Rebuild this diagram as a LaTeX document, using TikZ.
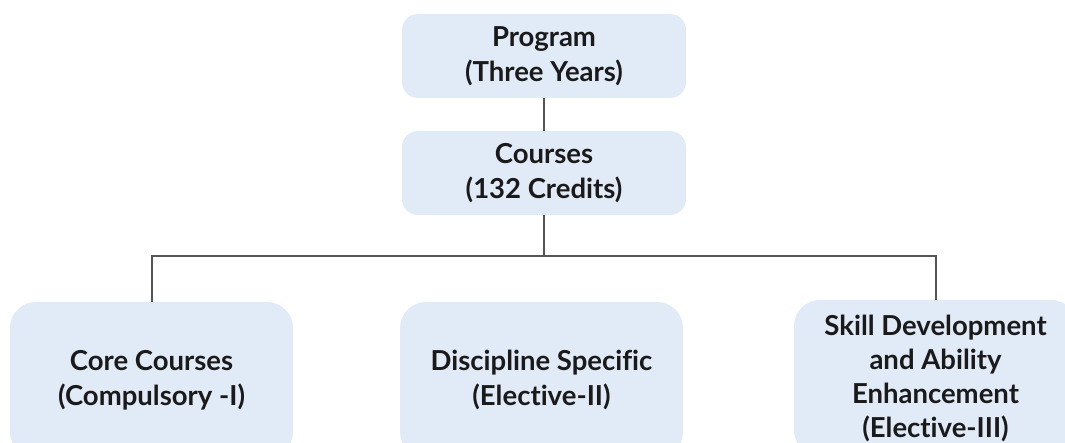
\documentclass[tikz,border=0pt]{standalone}
\usepackage{fontspec}
\setmainfont{Lato}[Ligatures=CommonOff]
\definecolor{boxfill}{HTML}{E1EAF7}
\definecolor{linec}{HTML}{555555}
\definecolor{textc}{HTML}{1A1A1A}
\begin{document}
\begin{tikzpicture}[x=1pt,y=1pt,
  box/.style={fill=boxfill, draw=none, rounded corners=16pt, align=center,
    font=\fontsize{27.5}{35}\selectfont\bfseries, text=textc, inner sep=0pt},
  topbox/.style={box, minimum width=284pt, minimum height=84pt},
  lowbox/.style={box, minimum width=283pt, minimum height=156pt, rounded corners=26pt},
  conn/.style={draw=linec, line width=2pt}]
\useasboundingbox (0,0) rectangle (1065,442);
\clip (0,0) rectangle (1065,442);
\node[topbox] (prog) at (544,386) {Program\\(Three Years)};
\node[topbox] (courses) at (544,269) {Courses\\(132 Credits)};
\node[lowbox] (core) at (151.5,62) {Core Courses\\(Compulsory -I)};
\node[lowbox] (disc) at (541.5,62) {Discipline Specific\\(Elective-II)};
\node[lowbox, font=\fontsize{27.5}{34}\selectfont\bfseries] (skill) at (935.5,64) {Skill Development\\and Ability\\Enhancement\\(Elective-III)};
\coordinate (j) at (544,186);
\draw[conn] (prog.south) -- (courses.north);
\draw[conn] (courses.south) -- (j);
\draw[conn] (j) -| (core.north);
\draw[conn] (j) -| (skill.north);
\end{tikzpicture}
\end{document}
